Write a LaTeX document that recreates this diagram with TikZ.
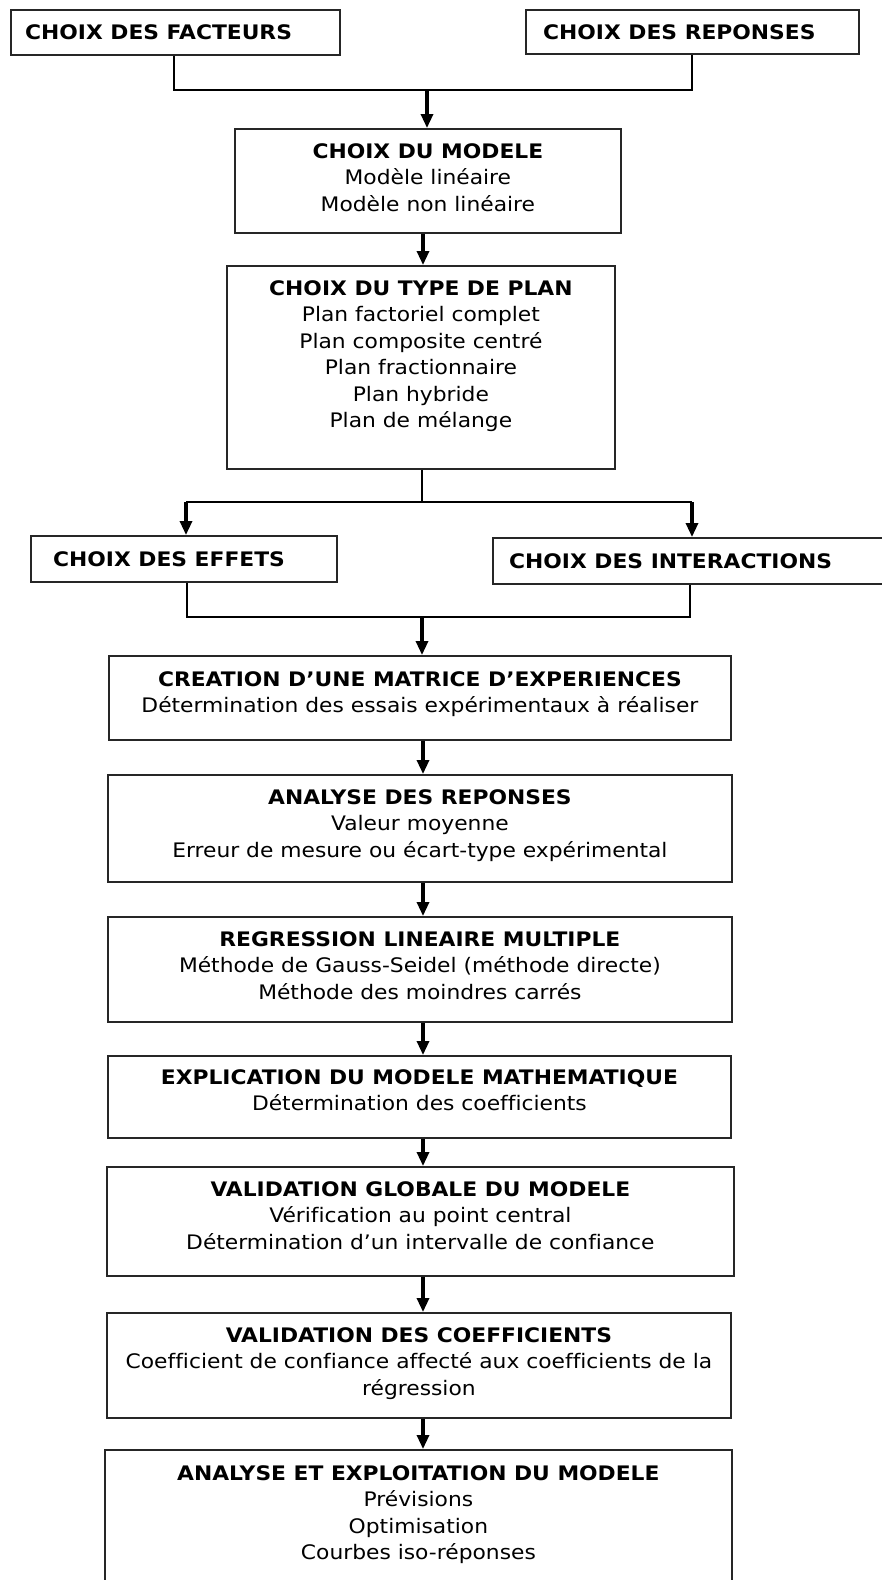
\documentclass[tikz,border=0pt]{standalone}
\usepackage{fontspec}
\setmainfont{DejaVu Sans}[FakeStretch=1.09,Ligatures=NoCommon]
\usetikzlibrary{arrows.meta,calc}
\begin{document}
\begin{tikzpicture}[x=1pt,y=-1pt,
  font=\fontsize{20}{26.5}\selectfont,
  box/.style={draw=black!85,line width=1.8pt,inner sep=0pt,anchor=north west},
  txt/.style={anchor=north,align=center,inner sep=0pt,text=black},
  lbl/.style={anchor=base west,inner sep=0pt,text=black,font=\fontsize{20}{26.5}\selectfont\bfseries},
  ln/.style={draw=black,line width=1.9pt},
  arr/.style={draw=black,line width=3.2pt,-{Triangle[width=12pt,length=14pt]}}]
\newcommand{\hd}[1]{\textbf{\rule{0pt}{16pt}#1}}
\useasboundingbox (0,0) rectangle (882,1580);
\fill[white] (0,0) rectangle (882,1580);

% top boxes
\node[box,minimum width=329pt,minimum height=45pt] (fact) at (10,9) {};
\node[lbl] (factT) at (25,39) {CHOIX DES FACTEURS};
\node[box,minimum width=333pt,minimum height=44pt] (rep) at (525,9) {};
\node[lbl] (repT) at (543,39) {CHOIX DES REPONSES};

\node[box,minimum width=386pt,minimum height=104pt] (modele) at (234,128) {};
\node[txt] (modeleT) at ($(modele.north)+(0,14)$) {\hd{CHOIX DU MODELE}\\Modèle linéaire\\Modèle non linéaire};

\node[box,minimum width=388pt,minimum height=203pt] (type) at (226,265) {};
\node[txt] (typeT) at ($(type.north)+(0,14)$) {\hd{CHOIX DU TYPE DE PLAN}\\Plan factoriel complet\\Plan composite centré\\Plan fractionnaire\\Plan hybride\\Plan de mélange};

\node[box,minimum width=306pt,minimum height=46pt] (effets) at (30,535) {};
\node[lbl] (effetsT) at (53,566) {CHOIX DES EFFETS};
\node[box,minimum width=408pt,minimum height=46pt] (inter) at (492,537) {};
\node[lbl] (interT) at (509,568) {CHOIX DES INTERACTIONS};

\node[box,minimum width=622pt,minimum height=84pt] (creat) at (108,655) {};
\node[txt] (creatT) at ($(creat.north)+(0,15)$) {\hd{CREATION D’UNE MATRICE D’EXPERIENCES}\\Détermination des essais expérimentaux à réaliser};

\node[box,minimum width=624pt,minimum height=107pt] (analyse) at (107,774) {};
\node[txt] (analyseT) at ($(analyse.north)+(0,14)$) {\hd{ANALYSE DES REPONSES}\\Valeur moyenne\\Erreur de mesure ou écart-type expérimental};

\node[box,minimum width=624pt,minimum height=105pt] (regr) at (107,916) {};
\node[txt] (regrT) at ($(regr.north)+(0,14)$) {\hd{REGRESSION LINEAIRE MULTIPLE}\\Méthode de Gauss-Seidel (méthode directe)\\Méthode des moindres carrés};

\node[box,minimum width=623pt,minimum height=82pt] (expl) at (107,1055) {};
\node[txt] (explT) at ($(expl.north)+(0,13)$) {\hd{EXPLICATION DU MODELE MATHEMATIQUE}\\Détermination des coefficients};

\node[box,minimum width=627pt,minimum height=109pt] (valg) at (106,1166) {};
\node[txt] (valgT) at ($(valg.north)+(0,14)$) {\hd{VALIDATION GLOBALE DU MODELE}\\Vérification au point central\\Détermination d’un intervalle de confiance};

\node[box,minimum width=624pt,minimum height=105pt] (valc) at (106,1312) {};
\node[txt] (valcT) at ($(valc.north)+(0,14)$) {\hd{VALIDATION DES COEFFICIENTS}\\Coefficient de confiance affecté aux coefficients de la\\régression};

\node[box,minimum width=627pt,minimum height=160pt] (expo) at (104,1449) {};
\node[txt] (expoT) at ($(expo.north)+(0,15)$) {\hd{ANALYSE ET EXPLOITATION DU MODELE}\\Prévisions\\Optimisation\\Courbes iso-réponses};

% connectors
\coordinate (xa) at (174,0);
\coordinate (xb) at (692,0);
\coordinate (j1) at (427,90);
\draw[ln] (fact.south -| xa) -- (xa |- j1) -- (xb |- j1) -- (rep.south -| xb);
\draw[arr] (j1) -- (modele.north -| j1);

\coordinate (x2) at (423,0);
\draw[arr] (modele.south -| x2) -- (type.north -| x2);

\coordinate (s1) at (422,502);
\coordinate (xe) at (186,0);
\coordinate (xi) at (692,0);
\draw[ln] (type.south -| s1) -- (s1);
\draw[ln] (xe |- s1) -- (xi |- s1);
\draw[arr] (xe |- s1) -- (effets.north -| xe);
\draw[arr] (xi |- s1) -- (inter.north -| xi);

\coordinate (j2) at (422,617);
\coordinate (xe2) at (187,0);
\coordinate (xi2) at (690,0);
\draw[ln] (effets.south -| xe2) -- (xe2 |- j2) -- (xi2 |- j2) -- (inter.south -| xi2);
\draw[arr] (j2) -- (creat.north -| j2);

\coordinate (ax) at (423,0);
\draw[arr] (creat.south -| ax) -- (analyse.north -| ax);
\draw[arr] (analyse.south -| ax) -- (regr.north -| ax);
\draw[arr] (regr.south -| ax) -- (expl.north -| ax);
\draw[arr] (expl.south -| ax) -- (valg.north -| ax);
\draw[arr] (valg.south -| ax) -- (valc.north -| ax);
\draw[arr] (valc.south -| ax) -- (expo.north -| ax);
\end{tikzpicture}
\end{document}
